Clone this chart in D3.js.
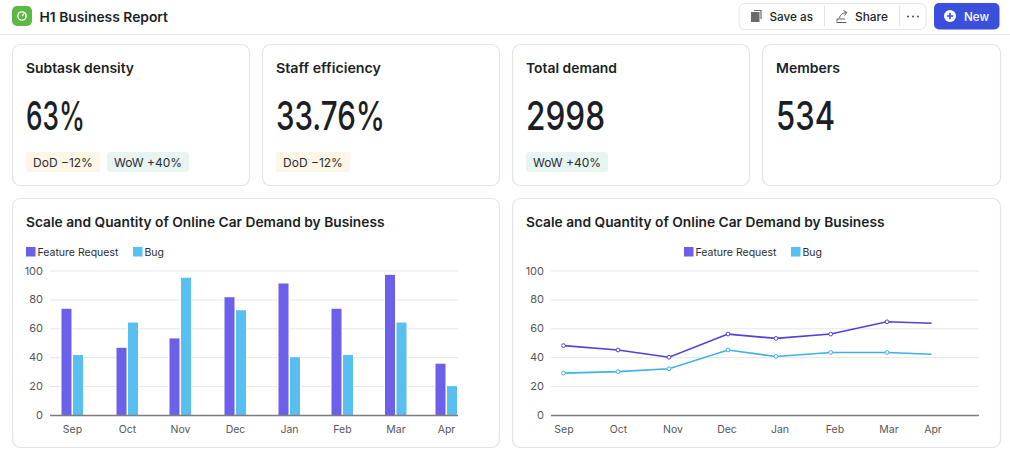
<!DOCTYPE html>
<html><head><meta charset="utf-8">
<script src="https://cdn.jsdelivr.net/npm/d3@7"></script>
<style>html,body{margin:0;padding:0;background:#fff;overflow:hidden}svg{display:block}text{font-family:Inter,"Noto Sans",sans-serif}</style>
</head><body><svg id="c" width="1010" height="472"></svg>
<script>
const months=["Sep","Oct","Nov","Dec","Jan","Feb","Mar","Apr"];
const yTicks=[0,20,40,60,80,100];
const seriesNames=["Feature Request","Bug"];
const barFeature=[73.5,46.5,53,81.5,91,73.5,97,35.5];
const barBug=[41.5,64,95,72.5,40,41.5,64,20];
const lineFeature=[48,45,40,56,53,56,64.5,63.5];
const lineBug=[29,30,32,45,40.5,43.3,43.3,42];
const kpiTitles=["Subtask density","Staff efficiency","Total demand","Members"];
const kpiValues=["63%","33.76%","2998","534"];
const kpiPills=[["DoD −12%","WoW +40%"],["DoD −12%"],["WoW +40%"],[]];
const chartTitle="Scale and Quantity of Online Car Demand by Business";

const svg=d3.select("#c");
const INK="#1c1f26",C1="#6c5fe9",C2="#57c0f0",L1="#5340d6",L2="#3fb1e8",BORDER="#e4e4e6",GRID="#e6e6e8",AXIS="#7d7d80",TICK="#55565a";
const y=d3.scaleLinear().domain([0,100]).range([415,270.5]);

function txt(g,x,yy,s,o={}){const t=g.append("text").attr("x",x).attr("y",yy).text(s)
 .attr("font-size",o.size||12).attr("font-weight",o.weight||400).attr("fill",o.fill||INK)
 .attr("text-anchor",o.anchor||"start");
 if(o.len)t.attr("textLength",o.len).attr("lengthAdjust","spacingAndGlyphs");
 return t;}
function card(x,yy,w,h){svg.append("rect").attr("x",x+.5).attr("y",yy+.5).attr("width",w).attr("height",h).attr("rx",8).attr("fill","#fff").attr("stroke",BORDER).attr("stroke-width",1.2);}

// header
svg.append("line").attr("x1",0).attr("x2",1010).attr("y1",34.5).attr("y2",34.5).attr("stroke","#e4e4e6");
svg.append("rect").attr("x",12).attr("y",6).attr("width",20).attr("height",20).attr("rx",5).attr("fill","#5cb944");
svg.append("circle").attr("cx",22).attr("cy",16).attr("r",4.2).attr("fill","none").attr("stroke","#fff").attr("stroke-width",1.3);
svg.append("path").attr("d","M22 16L24 13.6").attr("stroke","#fff").attr("stroke-width",1.2);
txt(svg,39.5,21.5,"H1 Business Report",{size:13.5,weight:600,len:128.5});
svg.append("rect").attr("x",739).attr("y",3.5).attr("width",187).attr("height",26).attr("rx",6).attr("fill","#fff").attr("stroke",BORDER);
[824,899].forEach(x=>svg.append("line").attr("x1",x+.5).attr("x2",x+.5).attr("y1",6).attr("y2",26).attr("stroke",BORDER));
svg.append("rect").attr("x",751).attr("y",12).attr("width",8.5).attr("height",10).attr("fill","#6a6a6e");
svg.append("path").attr("d","M754 10.5H761V19").attr("fill","none").attr("stroke","#6a6a6e").attr("stroke-width",1.2);
txt(svg,769.5,21,"Save as",{size:11.5,weight:500,len:43.5});
svg.append("path").attr("d","M837 21.5V19H845M839.5 18C840 14.5 842.5 13 846.5 12.5M843.5 10.5L846.8 12.5L844.5 15.5M836.5 22.5H846.5").attr("fill","none").attr("stroke","#5f5f63").attr("stroke-width",1);
txt(svg,855,21,"Share",{size:11.5,weight:500,len:33});
[908,913,918].forEach(x=>svg.append("circle").attr("cx",x).attr("cy",16.5).attr("r",1.1).attr("fill","#5a5a5e"));
svg.append("rect").attr("x",934).attr("y",3).attr("width",65.5).attr("height",26.5).attr("rx",5).attr("fill","#3a50dc");
svg.append("circle").attr("cx",950).attr("cy",16).attr("r",6).attr("fill","#fff");
svg.append("path").attr("d","M946.8 16H953.2M950 12.8V19.2").attr("stroke","#3a50dc").attr("stroke-width",1.6);
txt(svg,964,20.5,"New",{size:11.5,weight:500,fill:"#fff",len:25});

// KPI cards
const cardX=[12,262,512,762], cardW=[237,237,237,238];
const valueW=[59,109,79,59];
const titleW=[108,105,91,64];
const pillW={"DoD −12%":74,"WoW +40%":82};
kpiTitles.forEach((t,i)=>{
 const x=cardX[i];
 card(x,44,cardW[i],141);
 txt(svg,x+14,73,t,{size:13.4,weight:600,len:titleW[i]});
 txt(svg,x+14,130,kpiValues[i],{size:40,weight:500,fill:"#1b1e25",len:valueW[i]});
 let px=x+14;
 kpiPills[i].forEach(p=>{
  svg.append("rect").attr("x",px).attr("y",152).attr("width",pillW[p]).attr("height",20).attr("rx",3).attr("fill",p[0]=="D"?"#fdf6e6":"#e7f4f1");
  txt(svg,px+pillW[p]/2,166.5,p,{size:12,anchor:"middle",fill:"#2a2c33"});
  px+=pillW[p]+7;
 });
});

// chart shell
function shell(x,w,x0,x1,labelX){
 card(x,198,w,249);
 txt(svg,x+14,227,chartTitle,{size:13.2,weight:600,len:358.5});
 const g=svg.append("g");
 g.selectAll("line.g").data(yTicks.filter(d=>d>0)).join("line").attr("x1",x0).attr("x2",x1).attr("y1",d=>y(d)+.5).attr("y2",d=>y(d)+.5).attr("stroke",GRID);
 g.selectAll("text.t").data(yTicks).join("text").attr("x",x0-7).attr("y",d=>y(d)+4).attr("text-anchor","end").attr("font-size",11).attr("fill",TICK).text(d=>d);
 g.selectAll("text.m").data(months).join("text").attr("x",d=>labelX(d)).attr("y",433).attr("text-anchor","middle").attr("font-size",10.5).attr("fill",TICK).text(d=>d);
 return g;
}
function legend(x){
 const pos=[x,x+107];
 seriesNames.forEach((n,i)=>{
  svg.append("rect").attr("x",pos[i]).attr("y",247).attr("width",9.5).attr("height",9.5).attr("fill",i?C2:C1);
  txt(svg,pos[i]+11.5,256,n,{size:10.5,fill:"#2b2d33"});
 });
}
function baseline(x0,x1){svg.append("line").attr("x1",x0).attr("x2",x1).attr("y1",415.5).attr("y2",415.5).attr("stroke",AXIS).attr("stroke-width",1.3);}

// bar chart
const barCentres=[72.5,127.5,180.5,235.5,289.5,342.5,396,446.5];
const xb=d3.scaleOrdinal().domain(months).range(barCentres);
shell(12,487,50,458,xb);
legend(26);
const bw=10;
[[barFeature,C1,-11],[barBug,C2,0.5]].forEach(([vals,col,off])=>{
 svg.selectAll(null).data(vals).join("rect")
  .attr("x",(d,i)=>xb(months[i])+off-1).attr("width",bw+2)
  .attr("y",d=>y(d)-1).attr("height",d=>y(0)-y(d)+1).attr("fill","#fff");
 svg.selectAll(null).data(vals).join("rect")
  .attr("x",(d,i)=>xb(months[i])+off).attr("width",bw)
  .attr("y",d=>y(d)).attr("height",d=>y(0)-y(d)).attr("fill",col);
});
baseline(50,458);

// line chart
const labelCentres=[564,618.5,673,727,780,835,889,933];
const pointCentres=[563.5,618,669,728,776,830.7,887,931.6];
const xl=d3.scaleOrdinal().domain(months).range(labelCentres);
const xp=d3.scaleOrdinal().domain(months).range(pointCentres);
shell(512,488,551,979,xl);
legend(684);
baseline(551,979);
[[lineBug,L2],[lineFeature,L1]].forEach(([vals,col])=>{
 const line=d3.line().x((d,i)=>xp(months[i])).y(d=>y(d));
 svg.append("path").attr("d",line(vals)).attr("fill","none").attr("stroke",col).attr("stroke-width",1.6);
 svg.selectAll(null).data(vals.slice(0,-1)).join("circle")
  .attr("cx",(d,i)=>xp(months[i])).attr("cy",d=>y(d)).attr("r",1.9)
  .attr("fill","#fff").attr("stroke",col).attr("stroke-width",1);
});
</script></body></html>
